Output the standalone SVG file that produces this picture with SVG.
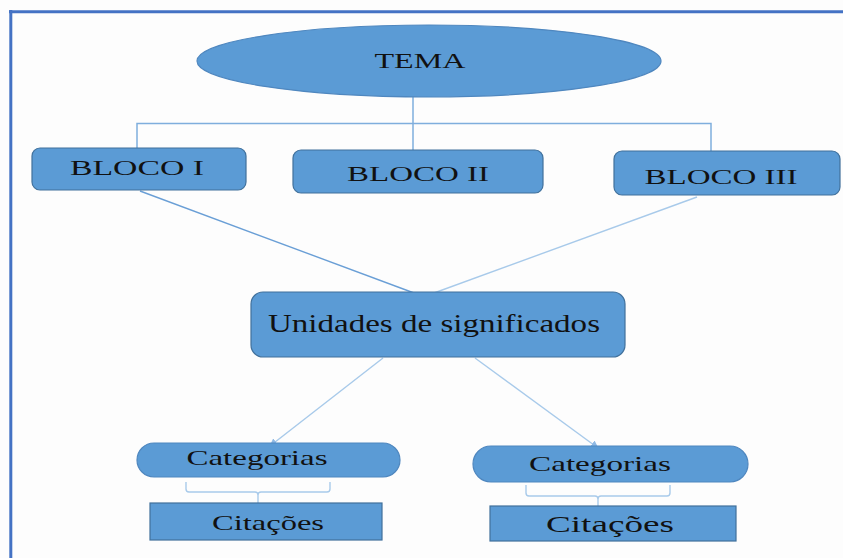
<svg xmlns="http://www.w3.org/2000/svg" width="843" height="558" viewBox="0 0 843 558">
<style>
.shape{fill:#5B9BD5;stroke:#4F87BF;stroke-width:1.2}
.rect{fill:#5B9BD5;stroke:#41719C;stroke-width:1.2}
.t{font-family:"Liberation Serif","Times New Roman",serif;fill:#111;text-anchor:middle}
.c1{fill:none;stroke:#7FAEDD;stroke-width:1.5}
.c2{fill:none;stroke:#6A9FD6;stroke-width:1.4}
.c3{fill:none;stroke:#A8CAEA;stroke-width:1.4}
</style>
<defs>
<marker id="ah" viewBox="0 0 10 10" refX="9" refY="5" markerWidth="8" markerHeight="8" orient="auto" markerUnits="userSpaceOnUse">
<path d="M0,0 L10,5 L0,10 z" fill="#8FB9E4"/>
</marker>
</defs>
<rect width="843" height="558" fill="#FDFDFD"/>
<g id="frame">
<line x1="9" y1="11.7" x2="843" y2="11.7" stroke="#4472C4" stroke-width="3"/>
<line x1="10.8" y1="10" x2="10.8" y2="558" stroke="#4472C4" stroke-width="3"/>
</g>
<g id="connectors">
<path class="c1" d="M413,97 V123.5 M137,150 V123.5 H711 V152 M413,123.5 V151"/>
<line class="c2" x1="140" y1="191" x2="414" y2="293"/>
<line class="c3" x1="697" y1="197" x2="434" y2="293"/>
<line class="c3" x1="383" y1="358" x2="270" y2="446" marker-end="url(#ah)"/>
<line class="c3" x1="475" y1="358" x2="598" y2="448" marker-end="url(#ah)"/>
<path class="c3" d="M186,482 V489 Q186,492 189,492 H255 Q258,492 258,495 Q258,492 261,492 H327 Q330,492 330,489 V482 M258,495 V503"/>
<path class="c3" d="M526,485 V493 Q526,496 529,496 H595 Q598,496 598,499 Q598,496 601,496 H667 Q670,496 670,493 V485 M598,499 V506"/>
</g>
<g id="tema">
<ellipse class="shape" cx="429" cy="61" rx="232" ry="36"/>
<text class="t" x="420" y="68" font-size="22" textLength="91" lengthAdjust="spacingAndGlyphs">TEMA</text>
</g>
<g id="bloco1">
<rect class="rect" x="32" y="148" width="214" height="42" rx="8"/>
<text class="t" x="137" y="175" font-size="22" textLength="134" lengthAdjust="spacingAndGlyphs">BLOCO I</text>
</g>
<g id="bloco2">
<rect class="rect" x="293" y="150" width="250" height="43" rx="8"/>
<text class="t" x="418" y="181" font-size="22" textLength="142" lengthAdjust="spacingAndGlyphs">BLOCO II</text>
</g>
<g id="bloco3">
<rect class="rect" x="614" y="151" width="226" height="44" rx="8"/>
<text class="t" x="721" y="184" font-size="22" textLength="153" lengthAdjust="spacingAndGlyphs">BLOCO III</text>
</g>
<g id="unidades">
<rect class="rect" x="251" y="292" width="374" height="65" rx="12"/>
<text class="t" x="434" y="332" font-size="25" textLength="332" lengthAdjust="spacingAndGlyphs">Unidades de significados</text>
</g>
<g id="categorias1">
<rect class="shape" x="137" y="443" width="263" height="34" rx="17"/>
<text class="t" x="257" y="465" font-size="22" textLength="141" lengthAdjust="spacingAndGlyphs">Categorias</text>
</g>
<g id="categorias2">
<rect class="shape" x="473" y="446" width="275" height="36" rx="18"/>
<text class="t" x="600" y="471" font-size="22" textLength="142" lengthAdjust="spacingAndGlyphs">Categorias</text>
</g>
<g id="citacoes1">
<rect class="rect" x="150" y="503" width="232" height="37"/>
<text class="t" x="268" y="530" font-size="22" textLength="112" lengthAdjust="spacingAndGlyphs">Citações</text>
</g>
<g id="citacoes2">
<rect class="rect" x="490" y="506" width="246" height="35"/>
<text class="t" x="610" y="532" font-size="23" textLength="128" lengthAdjust="spacingAndGlyphs">Citações</text>
</g>
</svg>
